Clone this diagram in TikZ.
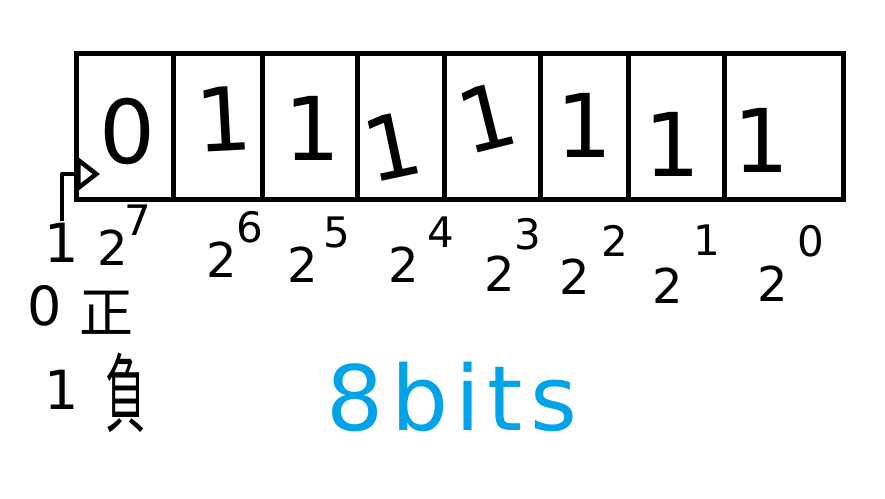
\documentclass[tikz,border=0pt]{standalone}
\usepackage{fontspec}
\setmainfont{DejaVu Sans}
\newfontfamily\cjkfont{Noto Sans CJK TC}
\newfontfamily\bitsfont{DejaVu Sans}[LetterSpace=8]
\usetikzlibrary{arrows.meta}
\definecolor{paintblue}{RGB}{0,162,232}
\tikzset{cell/.style={draw=black, line width=5pt, minimum height=146pt, inner sep=0pt},
  bitdigit/.style={inner sep=0pt, font=\fontsize{88}{88}\selectfont},
  powbase/.style={inner sep=0pt, font=\fontsize{48}{48}\selectfont},
  powexp/.style={inner sep=0pt, font=\fontsize{42}{42}\selectfont},
  signtext/.style={inner sep=0pt, font=\fontsize{54}{54}\selectfont},
  signcjk/.style={inner sep=0pt, font=\cjkfont\fontsize{54}{54}\selectfont},
  signarrow/.style={line width=4.5pt, line join=round, shorten <=2pt,
    -{Triangle[open,length=24pt,width=36pt,line width=4.5pt]}},
  bitslabel/.style={inner sep=0pt, text=paintblue, font=\bitsfont\fontsize{90}{90}\selectfont}}
\begin{document}
\begin{tikzpicture}[x=1pt, y=-1pt]
\useasboundingbox (0,0) rectangle (885,498);
% the eight bit cells
\foreach \l/\r/\i in {76/173/7,173/262/6,262/357/5,357/444/4,444/540/3,540/628/2,628/724/1,724/843/0}
  \node[cell, minimum width={(\r-\l)*1pt}] (c\i) at ({(\l+\r)/2},126) {};
\foreach \x/\y/\d/\a/\i in {127/131/0/0/7, 224/119/1/3/6, 312/128/1/0/5, 392/146/1/12/4,
    487/118/1/14/3, 584/125/1/0/2, 672/144/1/0/1, 761/140/1/0/0}
  \node[bitdigit, rotate=\a] (d\i) at (\x,\y) {\d};
% weights
\foreach \bx/\by/\ex/\ey/\e in {113/248/138/220/7, 222/260/250/227/6, 303/265/337/232/5, 404/265/441/232/4,
    500/274/528/234/3, 575/277/615/241/2, 668/286/707/240/1, 773/284/811/241/0}
  {\node[powbase] (b\e) at (\bx,\by) {2};
   \node[powexp] (e\e) at (\ex,\ey) {\e};}
% sign bit
\node[signtext] (s1) at (62,243) {1};
\node[signtext] (szero) at (45,306) {0};
\node[signcjk] (zheng) at (106,313) {正};
\node[signtext] (sone) at (62,390) {1};
\node[signcjk] (fu) at (126,393) {\scalebox{0.75}[1.6]{負}};
\coordinate (signtip) at (100,174);
\draw[signarrow] (s1.north) |- (signtip);
\node[bitslabel, anchor=base] (bits) at (452,430) {8bits};
\end{tikzpicture}
\end{document}
